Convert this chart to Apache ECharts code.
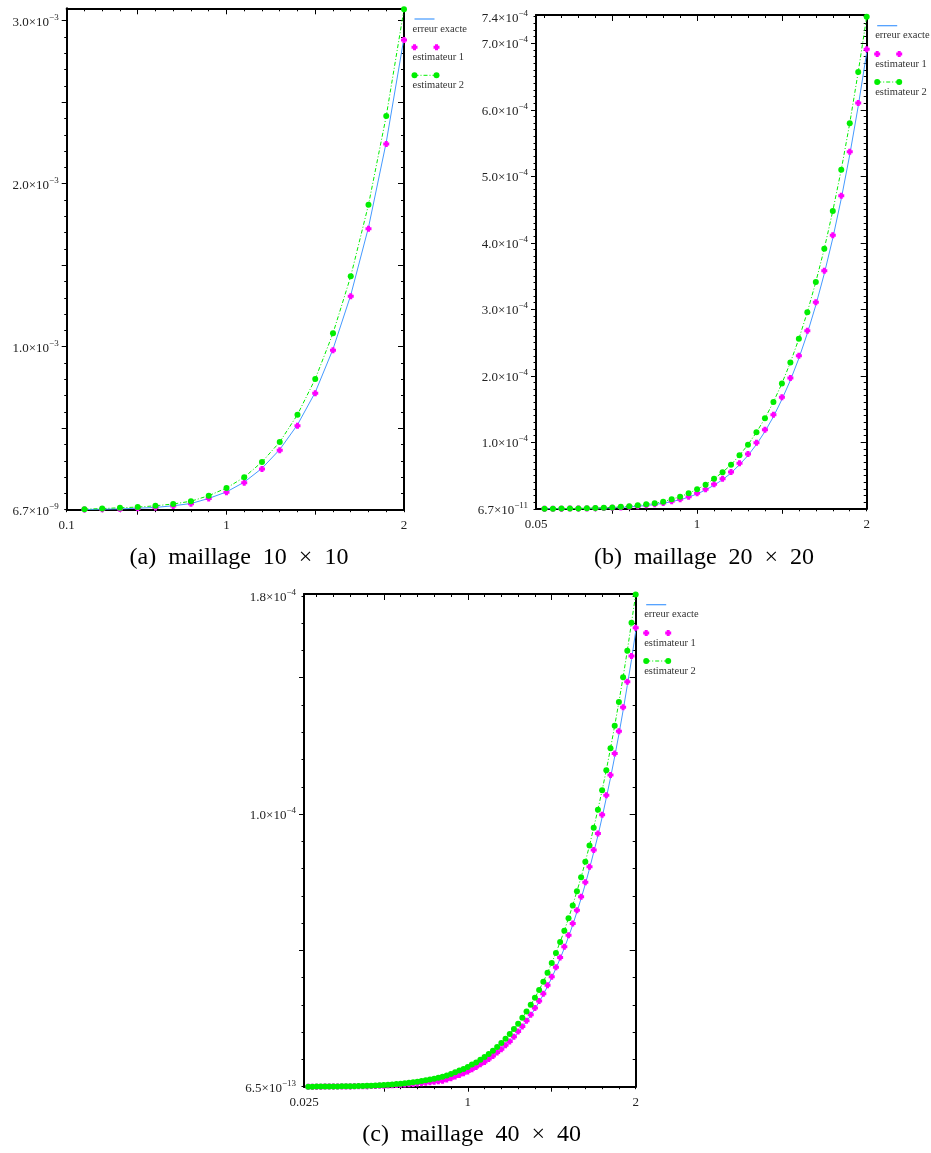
<!DOCTYPE html>
<html>
<head>
<meta charset="utf-8">
<script src="https://cdn.jsdelivr.net/npm/echarts@6/dist/echarts.min.js"></script>
<style>
html,body{margin:0;padding:0;background:#fff;}
#chart{width:931px;height:1153px;}
</style>
</head>
<body>
<div id="chart"></div>
<script>
// ---------------- DATA ----------------
// (a) maillage 10 x 10  — y values in units of 1e-3
const xA = [0.2,0.3,0.4,0.5,0.6,0.7,0.8,0.9,1.0,1.1,1.2,1.3,1.4,1.5,1.6,1.7,1.8,1.9,2.0];
const exactA = [0.001,0.003,0.005,0.009,0.014,0.024,0.038,0.069,0.109,0.169,0.254,0.369,0.521,0.720,0.985,1.316,1.732,2.254,2.895];
const est1A  = [0.001,0.003,0.005,0.009,0.014,0.023,0.037,0.068,0.107,0.166,0.250,0.364,0.515,0.714,0.978,1.309,1.724,2.244,2.882];
const est2A  = [0.003,0.007,0.012,0.016,0.024,0.035,0.052,0.086,0.133,0.199,0.293,0.415,0.583,0.802,1.082,1.432,1.871,2.415,3.070];
const xLabelValsA = [0.1, 1, 2];
const xLabelTextsA = ['0.1', '1', '2'];
const yLabelValsA = [0, 1, 2, 3];
const yLabelTextsA = ['6.7×10^−9', '1.0×10^−3', '2.0×10^−3', '3.0×10^−3'];

// (b) maillage 20 x 20  — y values in units of 1e-4
const xB = [0.1,0.15,0.2,0.25,0.3,0.35,0.4,0.45,0.5,0.55,
            0.6,0.65,0.7,0.75,0.8,0.85,0.9,0.95,1.0,1.05,
            1.1,1.15,1.2,1.25,1.3,1.35,1.4,1.45,1.5,1.55,
            1.6,1.65,1.7,1.75,1.8,1.85,1.9,1.95,2.0];
const exactB = [0.0005,0.001,0.002,0.003,0.004,0.006,0.008,0.011,0.015,0.020,
                0.028,0.038,0.050,0.065,0.083,0.108,0.137,0.175,0.224,0.283,
                0.355,0.438,0.537,0.664,0.802,0.968,1.162,1.385,1.644,1.932,
                2.262,2.637,3.062,3.536,4.068,4.662,5.322,6.055,6.860];
const est1B  = [0.0005,0.001,0.002,0.003,0.004,0.006,0.008,0.011,0.015,0.021,
                0.029,0.040,0.053,0.068,0.087,0.113,0.143,0.182,0.233,0.293,
                0.368,0.453,0.553,0.684,0.824,0.994,1.190,1.415,1.677,1.967,
                2.300,2.678,3.105,3.580,4.113,4.708,5.370,6.102,6.910];
const est2B  = [0.001,0.002,0.003,0.004,0.006,0.008,0.011,0.015,0.021,0.029,
                0.039,0.052,0.068,0.084,0.107,0.143,0.182,0.233,0.293,0.362,
                0.453,0.549,0.663,0.804,0.964,1.150,1.361,1.606,1.884,2.200,
                2.556,2.957,3.411,3.911,4.478,5.099,5.797,6.568,7.400];
const xLabelValsB = [0.05, 1, 2];
const xLabelTextsB = ['0.05', '1', '2'];
const yLabelValsB = [0, 1, 2, 3, 4, 5, 6, 7, 7.4];
const yLabelTextsB = ['6.7×10^−11','1.0×10^−4','2.0×10^−4','3.0×10^−4','4.0×10^−4','5.0×10^−4','6.0×10^−4','7.0×10^−4','7.4×10^−4'];

// (c) maillage 40 x 40  — y values in units of 1e-5
const xC = [0.05,0.075,0.1,0.125,0.15,0.175,0.2,0.225,0.25,0.275,
            0.3,0.325,0.35,0.375,0.4,0.425,0.45,0.475,0.5,0.525,
            0.55,0.575,0.6,0.625,0.65,0.675,0.7,0.725,0.75,0.775,
            0.8,0.825,0.85,0.875,0.9,0.925,0.95,0.975,1.0,1.025,
            1.05,1.075,1.1,1.125,1.15,1.175,1.2,1.225,1.25,1.275,
            1.3,1.325,1.35,1.375,1.4,1.425,1.45,1.475,1.5,1.525,
            1.55,1.575,1.6,1.625,1.65,1.675,1.7,1.725,1.75,1.775,
            1.8,1.825,1.85,1.875,1.9,1.925,1.95,1.975,2.0];
const exactC = [0.0005,0.001,0.0015,0.002,0.003,0.004,0.005,0.006,0.007,0.009,
                0.011,0.013,0.015,0.018,0.021,0.024,0.028,0.033,0.038,0.044,
                0.051,0.059,0.067,0.077,0.087,0.099,0.111,0.125,0.141,0.158,
                0.176,0.196,0.219,0.257,0.305,0.364,0.424,0.484,0.553,0.632,
                0.711,0.810,0.899,1.008,1.117,1.236,1.355,1.503,1.642,1.810,
                1.998,2.187,2.395,2.613,2.860,3.108,3.376,3.683,3.990,4.337,
                4.694,5.081,5.496,5.932,6.408,6.904,7.429,7.994,8.599,9.204,
                9.878,10.592,11.325,12.109,12.922,13.795,14.718,15.660,16.700];
const est1C  = [0.0005,0.001,0.0015,0.002,0.003,0.004,0.005,0.006,0.007,0.009,
                0.011,0.013,0.015,0.018,0.021,0.025,0.029,0.034,0.039,0.045,
                0.052,0.060,0.068,0.078,0.088,0.100,0.113,0.127,0.143,0.160,
                0.178,0.198,0.222,0.262,0.310,0.370,0.430,0.490,0.560,0.640,
                0.720,0.820,0.910,1.020,1.130,1.250,1.370,1.520,1.660,1.830,
                2.020,2.210,2.420,2.640,2.890,3.140,3.410,3.720,4.030,4.380,
                4.740,5.130,5.550,5.990,6.470,6.970,7.500,8.070,8.680,9.290,
                9.970,10.690,11.430,12.220,13.040,13.920,14.850,15.800,16.830];
const est2C  = [0.001,0.002,0.003,0.004,0.005,0.006,0.008,0.010,0.012,0.014,
                0.017,0.020,0.024,0.028,0.033,0.039,0.046,0.054,0.063,0.073,
                0.084,0.097,0.111,0.126,0.143,0.162,0.183,0.206,0.232,0.260,
                0.291,0.325,0.362,0.410,0.470,0.530,0.590,0.650,0.720,0.810,
                0.890,0.990,1.090,1.200,1.320,1.460,1.600,1.760,1.930,2.120,
                2.310,2.530,2.760,3.010,3.260,3.550,3.850,4.180,4.540,4.900,
                5.310,5.720,6.180,6.650,7.170,7.680,8.250,8.850,9.500,10.160,
                10.870,11.610,12.410,13.240,14.110,15.020,15.990,17.020,18.050];
const xLabelValsC = [0.025, 1, 2];
const xLabelTextsC = ['0.025', '1', '2'];
const yLabelValsC = [0, 10, 18];
const yLabelTextsC = ['6.5×10^−13', '1.0×10^−4', '1.8×10^−4'];

const seriesNames = ['erreur exacte', 'estimateur 1', 'estimateur 2'];
const captions = ['(a)\u2002maillage\u200210\u2002×\u200210',
                  '(b)\u2002maillage\u200220\u2002×\u200220',
                  '(c)\u2002maillage\u200240\u2002×\u200240'];

// ---------------- LAYOUT / STYLE ----------------
const FONT = '"Liberation Serif", "Times New Roman", serif';
const BLUE = '#4499ff', PINK = '#ff00ff', GREEN = '#00ee00';
const PLUS = 'path://M1.5,0H4.5V1.5H6V4.5H4.5V6H1.5V4.5H0V1.5H1.5Z';

function seq(a, b, s) { const r = []; for (let v = a; v <= b + 1e-9; v += s) r.push(+v.toFixed(6)); return r; }

const panels = [
  { grid: {left: 66.7, top: 8.3, width: 337.3, height: 501.4},
    xMin: 0.1, xMax: 2, yMin: 0, yMax: 3.076,
    x: xA, exact: exactA, est1: est1A, est2: est2A,
    xLV: xLabelValsA, xLT: xLabelTextsA, yLV: yLabelValsA, yLT: yLabelTextsA,
    xMinor: seq(0.1, 2, 0.1), xMajor: [0.5, 1, 1.5],
    yMinor: seq(0, 3, 0.1), yMajor: [0.5, 1, 1.5, 2, 2.5, 3],
    cap: captions[0], capX: 239, capY: 558 },
  { grid: {left: 536, top: 15, width: 330.7, height: 493.8},
    xMin: 0.05, xMax: 2, yMin: 0, yMax: 7.425,
    x: xB, exact: exactB, est1: est1B, est2: est2B,
    xLV: xLabelValsB, xLT: xLabelTextsB, yLV: yLabelValsB, yLT: yLabelTextsB,
    xMinor: seq(0.1, 2, 0.1), xMajor: [0.5, 1, 1.5],
    yMinor: seq(0, 7.4, 0.1), yMajor: [1, 2, 3, 4, 5, 6, 7],
    cap: captions[1], capX: 704, capY: 558 },
  { grid: {left: 304, top: 594, width: 331.7, height: 492.7},
    xMin: 0.025, xMax: 2, yMin: 0, yMax: 18.07,
    x: xC, exact: exactC, est1: est1C, est2: est2C,
    xLV: xLabelValsC, xLT: xLabelTextsC, yLV: yLabelValsC, yLT: yLabelTextsC,
    xMinor: seq(0.1, 2, 0.1), xMajor: [0.5, 1, 1.5],
    yMinor: seq(0, 18, 1), yMajor: [5, 10, 15],
    cap: captions[2], capX: 471.7, capY: 1135 }
];

function pick(vals, texts, v) {
  for (let i = 0; i < vals.length; i++) if (Math.abs(vals[i] - v) < 1e-6) return texts[i];
  return '';
}

const grids = [], xAxes = [], yAxes = [], series = [], graphics = [];
const tickStyle = {color: '#000', width: 1};
const lineStyleAxis = {color: '#000', width: 2};

panels.forEach((p, gi) => {
  grids.push(Object.assign({containLabel: false, outerBoundsMode: 'none'}, p.grid));
  const base = {gridIndex: gi, type: 'value', splitLine: {show: false},
                axisLabel: {show: false}, axisTick: {show: false},
                axisLine: {show: false, onZero: false}, axisPointer: {show: false}};
  const xi = xAxes.length, yi = yAxes.length;
  const mkX = (pos, o) => xAxes.push(Object.assign({}, base, {min: p.xMin, max: p.xMax, position: pos}, o));
  const mkY = (pos, o) => yAxes.push(Object.assign({}, base, {min: p.yMin, max: p.yMax, position: pos}, o));

  mkX('bottom', {
    axisLine: {show: true, onZero: false, lineStyle: lineStyleAxis},
    axisTick: {show: true, inside: false, length: 2.5, customValues: p.xMinor, lineStyle: tickStyle},
    axisLabel: {show: true, customValues: p.xLV, formatter: v => pick(p.xLV, p.xLT, v),
                margin: 9, fontFamily: FONT, fontSize: 13, color: '#222'}
  });
  mkX('top', {
    axisLine: {show: true, onZero: false, lineStyle: lineStyleAxis},
    axisTick: {show: true, inside: true, length: 3, customValues: p.xMinor, lineStyle: tickStyle}
  });
  mkX('bottom', {axisTick: {show: true, inside: false, length: 5, customValues: p.xMajor, lineStyle: tickStyle}});
  mkX('top', {axisTick: {show: true, inside: true, length: 6, customValues: p.xMajor, lineStyle: tickStyle}});

  mkY('left', {
    axisLine: {show: true, onZero: false, lineStyle: lineStyleAxis},
    axisTick: {show: true, inside: false, length: 2.5, customValues: p.yMinor, lineStyle: tickStyle},
    axisLabel: {show: true, customValues: p.yLV, margin: 8,
      formatter: v => { const t = pick(p.yLV, p.yLT, v); if (!t) return ''; const s = t.split('^'); return '{m|' + s[0] + '}{e|' + s[1] + '}'; },
      rich: {
        m: {fontFamily: FONT, fontSize: 13, color: '#222', lineHeight: 16, verticalAlign: 'bottom'},
        e: {fontFamily: FONT, fontSize: 9, color: '#222', lineHeight: 8, verticalAlign: 'top'}
      }}
  });
  mkY('right', {
    axisLine: {show: true, onZero: false, lineStyle: lineStyleAxis},
    axisTick: {show: true, inside: true, length: 3, customValues: p.yMinor, lineStyle: tickStyle}
  });
  mkY('left', {axisTick: {show: true, inside: false, length: 5, customValues: p.yMajor, lineStyle: tickStyle}});
  mkY('right', {axisTick: {show: true, inside: true, length: 6, customValues: p.yMajor, lineStyle: tickStyle}});

  series.push({
    name: seriesNames[0], type: 'line', xAxisIndex: xi, yAxisIndex: yi, z: 2,
    data: p.x.map((x, i) => [x, p.exact[i]]),
    showSymbol: false, symbol: 'none', smooth: false,
    lineStyle: {color: BLUE, width: 1}, itemStyle: {color: BLUE}, silent: true
  });
  series.push({
    name: seriesNames[1], type: 'scatter', xAxisIndex: xi, yAxisIndex: yi, z: 3,
    data: p.x.map((x, i) => [x, p.est1[i]]),
    symbol: PLUS, symbolSize: 6, itemStyle: {color: PINK, opacity: 1}, silent: true
  });
  series.push({
    name: seriesNames[2], type: 'line', xAxisIndex: xi, yAxisIndex: yi, z: 4,
    data: p.x.map((x, i) => [x, p.est2[i]]),
    symbol: 'circle', symbolSize: 6, showSymbol: true, showAllSymbol: true,
    lineStyle: {color: GREEN, width: 1, type: [4, 2, 1, 2]},
    itemStyle: {color: GREEN, borderWidth: 0}, silent: true
  });

  // legend (drawn to the right of each plot, symbol above text)
  const gx = p.grid.left + p.grid.width + 10.5;
  const gy = p.grid.top;
  const txt = (t, y) => ({type: 'text', silent: true, style: {text: t, x: gx - 2, y: y, font: '10.5px ' + FONT, fill: '#333', textAlign: 'left', textVerticalAlign: 'middle'}});
  const plus = (cx, cy) => ({type: 'polygon', silent: true, shape: {points: [
      [cx-1.5,cy-3],[cx+1.5,cy-3],[cx+1.5,cy-1.5],[cx+3,cy-1.5],[cx+3,cy+1.5],[cx+1.5,cy+1.5],
      [cx+1.5,cy+3],[cx-1.5,cy+3],[cx-1.5,cy+1.5],[cx-3,cy+1.5],[cx-3,cy-1.5],[cx-1.5,cy-1.5]]},
      style: {fill: PINK}});
  graphics.push(
    {type: 'line', silent: true, shape: {x1: gx, y1: gy + 10.7, x2: gx + 20, y2: gy + 10.7}, style: {stroke: BLUE, lineWidth: 1.2}},
    txt(seriesNames[0], gy + 20.7),
    plus(gx, gy + 39), plus(gx + 22, gy + 39),
    txt(seriesNames[1], gy + 49),
    {type: 'line', silent: true, shape: {x1: gx, y1: gy + 67, x2: gx + 22, y2: gy + 67}, style: {stroke: GREEN, lineWidth: 1, lineDash: [4, 2, 1, 2]}},
    {type: 'circle', silent: true, shape: {cx: gx, cy: gy + 67, r: 3}, style: {fill: GREEN}},
    {type: 'circle', silent: true, shape: {cx: gx + 22, cy: gy + 67, r: 3}, style: {fill: GREEN}},
    txt(seriesNames[2], gy + 77)
  );
  // caption
  graphics.push({type: 'text', silent: true, style: {text: p.cap, x: p.capX, y: p.capY,
    font: '24px ' + FONT, fill: '#000', textAlign: 'center', textVerticalAlign: 'middle'}});
});

const chart = echarts.init(document.getElementById('chart'), null, {renderer: 'canvas'});
chart.setOption({
  animation: false,
  backgroundColor: '#fff',
  grid: grids,
  xAxis: xAxes,
  yAxis: yAxes,
  series: series,
  graphic: {elements: graphics}
});
</script>
</body>
</html>
